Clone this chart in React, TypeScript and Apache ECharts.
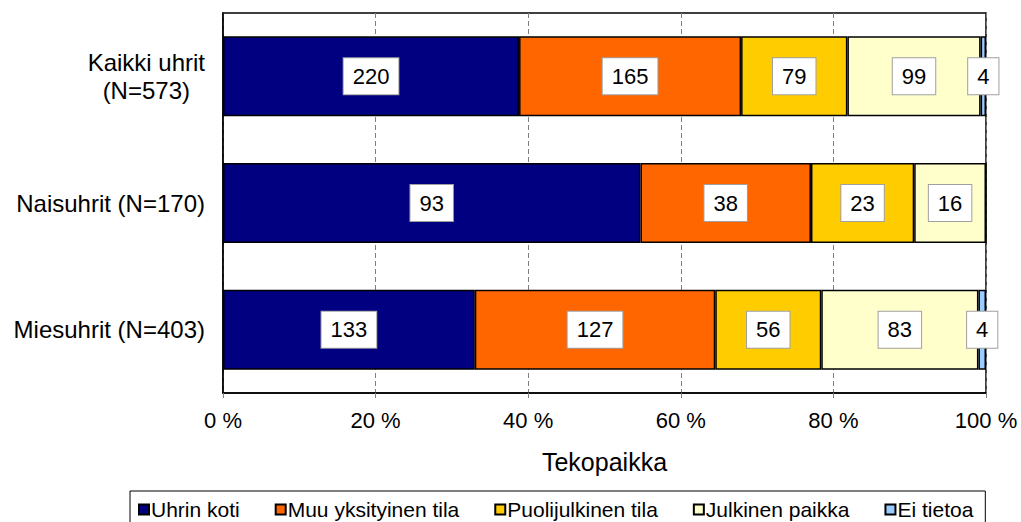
import React, { useEffect, useRef } from "react";
import * as echarts from "echarts";

const categories = ["Kaikki uhrit\n(N=573)", "Naisuhrit (N=170)", "Miesuhrit (N=403)"];
const seriesNames = ["Uhrin koti", "Muu yksityinen tila", "Puolijulkinen tila", "Julkinen paikka", "Ei tietoa"];
const uhrinKoti = [220, 93, 133];
const muuYksityinen = [165, 38, 127];
const puolijulkinen = [79, 23, 56];
const julkinen = [99, 16, 83];
const eiTietoa = [4, 0, 4];
const xTicks = [0, 20, 40, 60, 80, 100];
const colors = ["#000080", "#FF6600", "#FFCC00", "#FFFFCC", "#99CCFF"];

const FONT = "'Liberation Sans', Arial, sans-serif";

export default function App() {
  const ref = useRef<HTMLDivElement>(null);
  useEffect(() => {
    if (!ref.current) return;
    const chart = echarts.init(ref.current, null, { renderer: "svg" });
    const all = [uhrinKoti, muuYksityinen, puolijulkinen, julkinen, eiTietoa];
    const totals = categories.map((_, i) => all.reduce((s, arr) => s + arr[i], 0));
    const series = all.map((arr, si) => ({
      name: seriesNames[si],
      type: "bar",
      stack: "total",
      barWidth: 80,
      itemStyle: { color: colors[si], borderColor: "#000", borderWidth: 1.5 },
      label: {
        show: true,
        position: "inside",
        formatter: (p: any) => String(p.data.count),
        color: "#000",
        fontSize: 22,
        fontFamily: FONT,
        lineHeight: 22,
        backgroundColor: "#fff",
        borderColor: "#a0a0a0",
        borderWidth: 1,
        padding: [7, 9, 7, 9],
      },
      data: arr.map((v, i) => ({
        value: (v / totals[i]) * 100,
        count: v,
        label: { show: v > 0 },
      })),
    }));
    chart.setOption({
      animation: false,
      textStyle: { fontFamily: FONT },
      grid: {
        left: 223,
        top: 13,
        right: 35,
        height: 380,
        show: true,
        borderColor: "#000",
        borderWidth: 1.5,
        backgroundColor: "#fff",
      },
      xAxis: {
        type: "value",
        min: xTicks[0],
        max: xTicks[xTicks.length - 1],
        interval: 20,
        axisLine: { show: true, lineStyle: { color: "#000", width: 1.5 } },
        axisTick: { show: true, length: 5, lineStyle: { color: "#808080" } },
        axisLabel: {
          formatter: "{value} %",
          fontSize: 22,
          color: "#000",
          fontFamily: FONT,
          margin: 16,
        },
        splitLine: { show: true, lineStyle: { color: "#808080", type: [5, 3], width: 1 } },
        name: "Tekopaikka",
        nameLocation: "middle",
        nameGap: 56,
        nameTextStyle: { fontSize: 25, color: "#000", fontFamily: FONT },
      },
      yAxis: {
        type: "category",
        inverse: true,
        data: categories,
        axisLine: { show: true, lineStyle: { color: "#000", width: 1.5 } },
        axisTick: { show: false },
        axisLabel: {
          fontSize: 24,
          color: "#000",
          fontFamily: FONT,
          margin: 18,
          lineHeight: 28,
          formatter: (v: string) =>
            v.includes("\n")
              ? v
                  .split("\n")
                  .map((l) => `{c|${l}}`)
                  .join("\n")
              : v,
          rich: {
            c: { align: "center", fontSize: 24, fontFamily: FONT, color: "#000", lineHeight: 28 },
          },
        },
      },
      legend: {
        data: seriesNames,
        left: 130,
        top: 491,
        orient: "horizontal",
        borderColor: "#000",
        borderWidth: 1,
        padding: [8, 12, 12, 8],
        itemGap: 35,
        itemWidth: 10,
        itemHeight: 10,
        icon: "rect",
        textStyle: { fontSize: 21, color: "#000", fontFamily: FONT, padding: [0, 0, 0, -3] },
      },
      series,
    });
    return () => chart.dispose();
  }, []);
  return (
    <div
      ref={ref}
      style={{ position: "fixed", left: 0, top: 0, width: 1021, height: 522, background: "#fff" }}
    />
  );
}
